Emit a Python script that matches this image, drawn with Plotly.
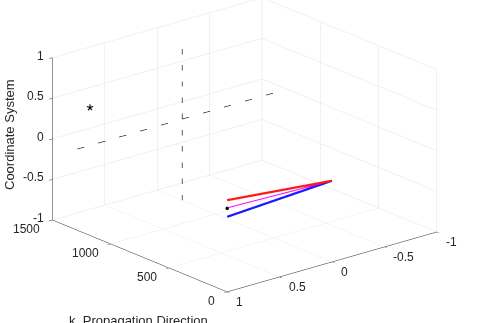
import plotly.graph_objects as go

# Axis limits and ticks
x_range = [0, 1500]
y_range = [-1, 1]
z_range = [-1, 1]
x_ticks = [0, 500, 1000, 1500]
y_ticks = [-1, -0.5, 0, 0.5, 1]
z_ticks = [-1, -0.5, 0, 0.5, 1]

# Reference cross (dashed) at the far end of the propagation path
cross_x = 1286
cross_vert_y = [0, 0]
cross_vert_z = [-1, 1]
cross_horz_y = [1, -1]
cross_horz_z = [0, 0]

# Marker position
star_pos = [1286, 0.88, 0.47]

# Field vectors starting at the origin
origin = [0, 0, 0]
red_tip = [0, 1.0, 0.13]
blue_tip = [0, 1.0, -0.075]
magenta_tip = [0, 1.0, 0.035]
dot_pos = [0, 1.0, 0.03]

TEXT = "#262626"
FONT = "Liberation Sans"

fig = go.Figure()

fig.add_trace(go.Scatter3d(
    x=[cross_x, cross_x], y=cross_vert_y, z=cross_vert_z, mode="lines",
    line=dict(color="black", width=1.2, dash="longdash")))
fig.add_trace(go.Scatter3d(
    x=[cross_x, cross_x], y=cross_horz_y, z=cross_horz_z, mode="lines",
    line=dict(color="black", width=1.2, dash="longdash")))
fig.add_trace(go.Scatter3d(
    x=[origin[0], red_tip[0]], y=[origin[1], red_tip[1]], z=[origin[2], red_tip[2]],
    mode="lines", line=dict(color="#ff1a1a", width=4.5)))
fig.add_trace(go.Scatter3d(
    x=[origin[0], blue_tip[0]], y=[origin[1], blue_tip[1]], z=[origin[2], blue_tip[2]],
    mode="lines", line=dict(color="#1a1aff", width=4.5)))
fig.add_trace(go.Scatter3d(
    x=[origin[0], magenta_tip[0]], y=[origin[1], magenta_tip[1]], z=[origin[2], magenta_tip[2]],
    mode="lines", line=dict(color="#ff00ff", width=2)))
fig.add_trace(go.Scatter3d(
    x=[dot_pos[0]], y=[dot_pos[1]], z=[dot_pos[2]], mode="markers",
    marker=dict(color="black", size=2)))
fig.add_trace(go.Scatter3d(
    x=[star_pos[0]], y=[star_pos[1]], z=[star_pos[2]], mode="text",
    text=["*"], textposition="middle center",
    textfont=dict(color="black", size=18, family=FONT)))

axis_common = dict(
    showbackground=False,
    showgrid=True, gridcolor="#e3e3e3", gridwidth=1,
    showline=True, linecolor="#262626", linewidth=1,
    zeroline=False,
    ticks="outside", ticklen=4, tickcolor="#262626",
    showticklabels=False,
    showspikes=False,
    title=dict(text=""),
)

# Tick labels placed at the axis edges (x: y=1,z=-1; y: x=0,z=-1; z: x=1500,y=1)
def fmt(v):
    return f"{v:g}"

tick_font = dict(family=FONT, size=12, color=TEXT)
tick_labels = []
for v in x_ticks:
    tick_labels.append(dict(x=v, y=y_range[1], z=z_range[0], text=fmt(v),
                            xanchor="right", yanchor="middle", xshift=-10, yshift=-9))
for v in y_ticks:
    tick_labels.append(dict(x=x_range[0], y=v, z=z_range[0], text=fmt(v),
                            xanchor="left", yanchor="middle", xshift=7, yshift=-10))
for v in z_ticks:
    tick_labels.append(dict(x=x_range[1], y=y_range[1], z=v, text=fmt(v),
                            xanchor="right", yanchor="middle", xshift=-6, yshift=2))
for a in tick_labels:
    a.update(showarrow=False, font=tick_font)

d = (-0.7216, 0.6014, 0.3429)
k = 2.0
c = (-0.0115, -0.0138, -0.11)
fig.update_layout(
    width=495, height=323,
    margin=dict(l=0, r=0, t=0, b=0),
    paper_bgcolor="white",
    showlegend=False,
    scene=dict(
        domain=dict(x=[0, 1], y=[0, 1]),
        xaxis=dict(range=x_range, tickvals=x_ticks, **axis_common),
        yaxis=dict(range=y_range, tickvals=y_ticks, **axis_common),
        zaxis=dict(range=z_range, tickvals=z_ticks, **axis_common),
        aspectmode="manual",
        aspectratio=dict(x=1.69, y=1.69, z=1.07),
        camera=dict(
            projection=dict(type="orthographic"),
            eye=dict(x=c[0] + d[0] * k, y=c[1] + d[1] * k, z=c[2] + d[2] * k),
            center=dict(x=c[0], y=c[1], z=c[2]),
            up=dict(x=0, y=0, z=1),
        ),
        annotations=tick_labels,
    ),
    annotations=[
        dict(text="k, Propagation Direction", xref="paper", yref="paper",
             x=138 / 495, y=1 - 311 / 323, xanchor="center", yanchor="top",
             showarrow=False, font=dict(family=FONT, size=13, color=TEXT)),
        dict(text="Coordinate System", xref="paper", yref="paper",
             x=10 / 495, y=1 - 135 / 323, xanchor="center", yanchor="middle",
             textangle=-90, showarrow=False,
             font=dict(family=FONT, size=13, color=TEXT)),
    ],
)

fig.write_html("out.html")
